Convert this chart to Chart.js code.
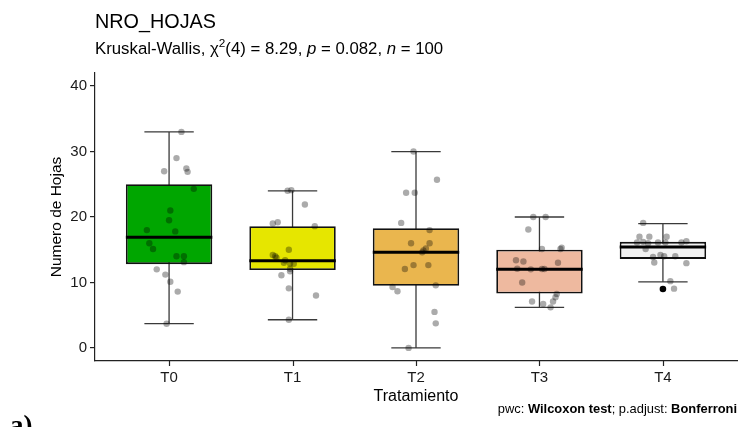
<!DOCTYPE html>
<html>
<head>
<meta charset="utf-8">
<script src="https://cdn.jsdelivr.net/npm/chart.js@4.4.1/dist/chart.umd.min.js"></script>
<style>
  html, body { margin: 0; padding: 0; background: #fff; }
  #wrap { width: 741px; height: 427px; }
</style>
</head>
<body>
<div id="wrap"><canvas id="chart" width="741" height="427"></canvas></div>
<script>
// groups and box colours
const groups = ['T0', 'T1', 'T2', 'T3', 'T4'];
const boxColors = ['#00A600', '#E6E600', '#EAB64E', '#EEB99F', '#F2F2F2'];

// box statistics
const whiskerLow = [3.7, 4.3, 0, 6.2, 10.1];
const q1 = [12.8, 11.9, 9.5, 8.3, 13.6];
const median = [16.9, 13.3, 14.6, 12.0, 15.4];
const q3 = [25.0, 18.6, 18.3, 15.0, 16.2];
const whiskerHigh = [33.0, 24.0, 30.0, 20.0, 19.0];

// outlier (group index, value)
const outlierGroup = [4];
const outlierValue = [9.0];

// jittered observations: values and horizontal jitter per group
const t0Values = [33.0, 29.0, 27.0, 27.4, 26.9, 24.3, 21.0, 19.5, 18.0, 17.8, 16.0, 15.1, 14.0, 14.0, 13.1, 12.0, 11.2, 10.1, 8.6, 3.7];
const t0Jitter = [0.10, 0.06, -0.04, 0.14, 0.15, 0.20, 0.01, 0.00, -0.18, 0.05, -0.16, -0.13, 0.06, 0.12, 0.12, -0.10, -0.03, 0.01, 0.07, -0.02];
const t1Values = [24.0, 24.1, 21.9, 19.0, 19.2, 18.6, 15.0, 14.2, 14.0, 13.8, 13.0, 12.9, 12.85, 12.1, 11.7, 11.1, 9.1, 8.0, 4.3, 13.4];
const t1Jitter = [-0.04, -0.01, 0.10, -0.16, -0.12, 0.18, -0.03, -0.16, -0.14, -0.13, -0.07, -0.02, 0.01, -0.02, -0.02, -0.09, -0.03, 0.19, -0.03, -0.06];
const t2Values = [30.0, 25.7, 23.7, 23.7, 19.1, 18.0, 16.0, 16.0, 15.2, 14.9, 14.6, 12.65, 12.65, 12.05, 9.56, 9.3, 8.65, 5.5, 3.75, 0];
const t2Jitter = [-0.02, 0.17, -0.08, -0.01, -0.12, 0.11, -0.04, 0.11, 0.08, 0.06, 0.05, -0.02, 0.10, -0.09, 0.16, -0.19, -0.15, 0.15, 0.16, -0.06];
const t3Values = [20.0, 20.0, 18.1, 15.1, 15.3, 15.1, 13.4, 13.2, 13.0, 12.1, 12.0, 12.05, 12.05, 10.0, 8.25, 7.75, 7.1, 6.7, 7.1, 6.2];
const t3Jitter = [-0.05, 0.05, -0.09, 0.02, 0.18, 0.17, -0.19, -0.13, 0.15, -0.18, -0.07, 0.02, 0.04, -0.14, 0.14, 0.13, -0.06, 0.03, 0.11, 0.09];
const t4Values = [19.1, 17.0, 17.0, 17.0, 16.1, 16.2, 16.1, 16.1, 16.1, 16.3, 15.1, 13.9, 14.0, 14.0, 13.05, 12.95, 10.2, 9.05, 14.2, 16.0];
const t4Jitter = [-0.16, -0.19, -0.11, 0.03, -0.21, -0.16, -0.04, 0.02, 0.15, 0.19, -0.14, -0.08, 0.01, 0.10, -0.07, 0.19, 0.06, 0.09, -0.02, -0.12];

const yTicks = [0, 10, 20, 30, 40];

const FONT = "'Liberation Sans', Arial, sans-serif";

// build point lists for the scatter dataset
const allValues = [t0Values, t1Values, t2Values, t3Values, t4Values];
const allJitter = [t0Jitter, t1Jitter, t2Jitter, t3Jitter, t4Jitter];
let jitterPoints = [];
allValues.forEach(function(vals, g) {
  vals.forEach(function(v, k) {
    jitterPoints.push({ x: g + allJitter[g][k], y: v });
  });
});

// whiskers + caps behind the boxes, medians on top of them, x tick marks
const boxplotParts = {
  id: 'boxplotParts',
  beforeDatasetsDraw(chart) {
    const ctx = chart.ctx;
    const xs = chart.scales.x, ys = chart.scales.y;
    ctx.save();
    ctx.strokeStyle = '#3a3a3a';
    ctx.lineWidth = 1.3;
    groups.forEach(function(g, i) {
      const cx = xs.getPixelForValue(i);
      const half = xs.getPixelForValue(i + 0.2) - cx;
      const yLo = ys.getPixelForValue(whiskerLow[i]);
      const yHi = ys.getPixelForValue(whiskerHigh[i]);
      ctx.beginPath();
      ctx.moveTo(cx, yLo); ctx.lineTo(cx, yHi);
      ctx.moveTo(cx - half, yLo); ctx.lineTo(cx + half, yLo);
      ctx.moveTo(cx - half, yHi); ctx.lineTo(cx + half, yHi);
      ctx.stroke();
    });
    // tick marks under the x axis
    ctx.strokeStyle = '#222';
    ctx.lineWidth = 1.2;
    groups.forEach(function(g, i) {
      const cx = Math.round(xs.getPixelForValue(i)) + 0.5;
      ctx.beginPath();
      ctx.moveTo(cx, xs.top);
      ctx.lineTo(cx, xs.top + 5);
      ctx.stroke();
    });
    ctx.restore();
  },
  afterDatasetDraw(chart, args) {
    if (args.meta.type !== 'bar') return;
    const ctx = chart.ctx;
    const xs = chart.scales.x, ys = chart.scales.y;
    ctx.save();
    ctx.strokeStyle = '#000';
    ctx.lineWidth = 3;
    groups.forEach(function(g, i) {
      const x0 = xs.getPixelForValue(i - 0.35);
      const x1 = xs.getPixelForValue(i + 0.35);
      const y = ys.getPixelForValue(median[i]);
      ctx.beginPath();
      ctx.moveTo(x0, y); ctx.lineTo(x1, y);
      ctx.stroke();
    });
    ctx.restore();
  }
};

// rich text helper: parts = [{t, s (style/weight), sup}]
function richWidth(ctx, parts, size) {
  let w = 0;
  parts.forEach(function(p) {
    const s = p.sup ? size * 0.7 : size;
    ctx.font = (p.s || '') + ' ' + s + 'px ' + FONT;
    w += ctx.measureText(p.t).width;
  });
  return w;
}
function drawRich(ctx, x, y, parts, size) {
  parts.forEach(function(p) {
    const s = p.sup ? size * 0.7 : size;
    ctx.font = (p.s || '') + ' ' + s + 'px ' + FONT;
    ctx.fillText(p.t, x, p.sup ? y - size * 0.42 : y);
    x += ctx.measureText(p.t).width;
  });
}

const textBits = {
  id: 'textBits',
  afterDraw(chart) {
    const ctx = chart.ctx;
    ctx.save();
    ctx.fillStyle = '#000';
    ctx.textBaseline = 'alphabetic';
    ctx.textAlign = 'left';
    ctx.font = '19.8px ' + FONT;
    ctx.fillText('NRO_HOJAS', 95, 27.5);

    drawRich(ctx, 95, 54, [
      { t: 'Kruskal-Wallis, ' },
      { t: 'χ' },
      { t: '2', sup: true },
      { t: '(4) = 8.29, ' },
      { t: 'p', s: 'italic' },
      { t: ' = 0.082, ' },
      { t: 'n', s: 'italic' },
      { t: ' = 100' }
    ], 16.8);

    const cap = [
      { t: 'pwc: ' },
      { t: 'Wilcoxon test', s: 'bold' },
      { t: '; p.adjust: ' },
      { t: 'Bonferroni', s: 'bold' }
    ];
    const cw = richWidth(ctx, cap, 12.9);
    drawRich(ctx, 737 - cw, 413, cap, 12.9);

    ctx.font = "bold 27px 'Liberation Serif', serif";
    ctx.fillText('a)', 10, 434);
    ctx.restore();
  }
};

new Chart(document.getElementById('chart'), {
  type: 'bar',
  data: {
    datasets: [
      {
        type: 'scatter',
        data: outlierGroup.map(function(g, k) { return { x: g, y: outlierValue[k] }; }),
        backgroundColor: '#000',
        borderWidth: 0,
        pointRadius: 3.3,
        order: 0
      },
      {
        type: 'scatter',
        data: jitterPoints,
        backgroundColor: 'rgba(0,0,0,0.33)',
        borderWidth: 0,
        pointRadius: 3.2,
        order: 1
      },
      {
        type: 'bar',
        data: groups.map(function(g, i) { return { x: i, y: [q1[i], q3[i]] }; }),
        backgroundColor: boxColors,
        borderColor: '#111',
        borderWidth: 1.8,
        borderSkipped: false,
        barPercentage: 0.7,
        categoryPercentage: 1,
        order: 2
      }
    ]
  },
  options: {
    responsive: false,
    animation: false,
    devicePixelRatio: 1,
    layout: { padding: { top: 73, right: 1, bottom: 0, left: 0 } },
    plugins: {
      legend: { display: false },
      tooltip: { enabled: false }
    },
    scales: {
      x: {
        type: 'linear',
        min: -0.6,
        max: 4.6,
        offset: false,
        afterBuildTicks: function(scale) {
          scale.ticks = groups.map(function(g, i) { return { value: i }; });
        },
        afterFit: function(scale) { scale.height = 66; },
        ticks: {
          callback: function(v) { return groups[v]; },
          color: '#1a1a1a',
          font: { family: FONT, size: 15 },
          padding: 3,
          maxRotation: 0
        },
        grid: { display: false, offset: false, drawOnChartArea: false, drawTicks: true, tickLength: 5 },
        border: { display: true, color: '#222', width: 1.2 },
        title: {
          display: true,
          text: 'Tratamiento',
          color: '#000',
          font: { family: FONT, size: 16 },
          padding: { top: 0, bottom: 21 }
        }
      },
      y: {
        min: -2,
        max: 42,
        afterBuildTicks: function(scale) {
          scale.ticks = yTicks.map(function(v) { return { value: v }; });
        },
        afterFit: function(scale) { scale.width = 95; },
        ticks: {
          color: '#1a1a1a',
          font: { family: FONT, size: 15 },
          padding: 3
        },
        grid: { drawOnChartArea: false, drawTicks: true, tickLength: 5, tickColor: '#222', tickWidth: 1.2, lineWidth: 1.2 },
        border: { display: true, color: '#222', width: 1.2 },
        title: {
          display: true,
          text: 'Numero de Hojas',
          color: '#000',
          font: { family: FONT, size: 15.5 },
          padding: { top: 47.5, bottom: 0 }
        }
      }
    }
  },
  plugins: [boxplotParts, textBits]
});
</script>
</body>
</html>
